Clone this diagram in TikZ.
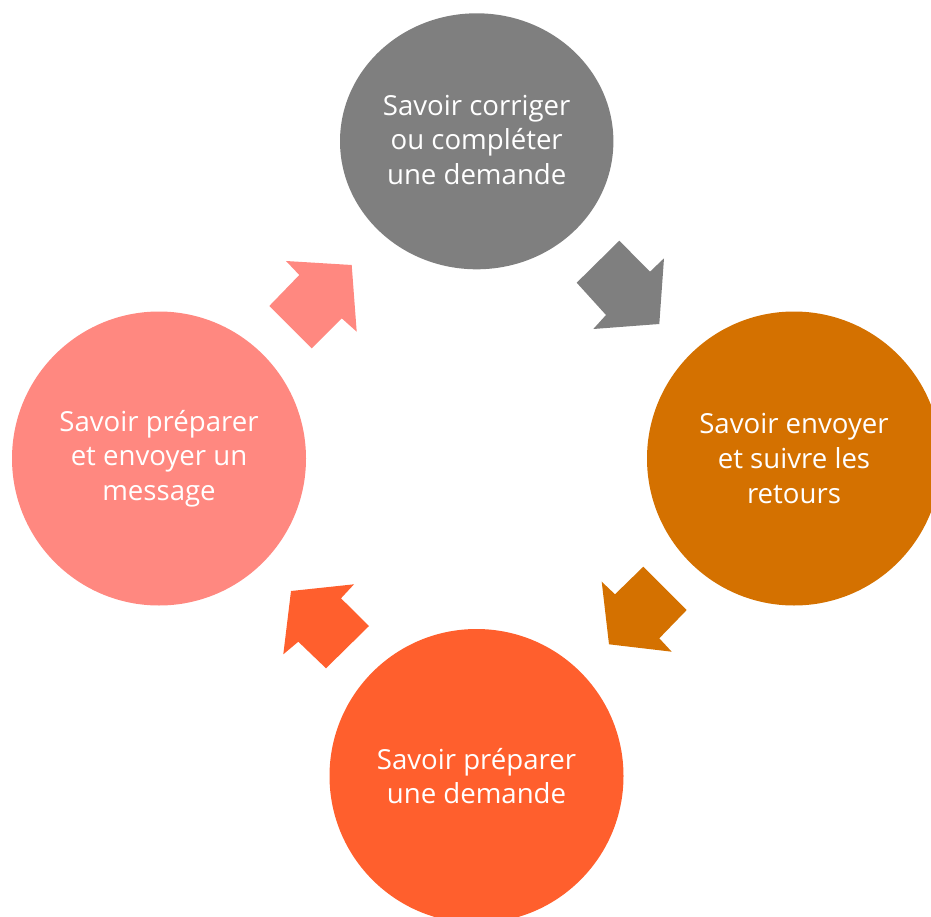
\documentclass[tikz,border=0pt]{standalone}
\usepackage{fontspec}
\setmainfont{Open Sans}
\definecolor{cgray}{RGB}{127,127,127}
\definecolor{corange}{RGB}{212,113,0}
\definecolor{cred}{RGB}{255,95,45}
\definecolor{cpink}{RGB}{255,136,128}
\tikzset{
  stage/.style={circle, inner sep=0pt, text=white, align=center,
    font=\fontsize{27.6}{34.6}\selectfont},
  blockarrow/.style={draw=none}
}
\begin{document}
\begin{tikzpicture}[x=1pt,y=-1pt]
\useasboundingbox (0,0) rectangle (931,917);
\clip (0,0) rectangle (931,917);
% circles
\fill[cgray] (476.7,141.3) ellipse [x radius=136.7, y radius=128];
\node[stage] (top) at (476.7,140) {Savoir corriger\\ou compléter\\une demande};
\node[stage, fill=corange, minimum size=294pt] (right) at (794,458.5) {Savoir envoyer\\et suivre les\\retours};
\node[stage, fill=cred, minimum size=294pt] (bottom) at (476.5,776) {Savoir préparer\\une demande};
\node[stage, fill=cpink, minimum size=294pt] (left) at (159,458.5) {Savoir préparer\\et envoyer un\\message};
% arrows
\fill[cpink, blockarrow] (351.7,265) -- (286,261) -- (299.3,275) -- (269.3,306) -- (311.7,348.3) -- (341.7,318.3) -- (356.7,331.7) -- cycle;
\fill[cgray, blockarrow] (659.3,324) -- (664,258.3) -- (650,271.7) -- (619.3,240.7) -- (576.7,282.7) -- (606,315) -- (593.3,329) -- cycle;
\fill[corange, blockarrow] (609,644.3) -- (601.7,581.7) -- (615,594.3) -- (643.3,566.7) -- (686.7,610) -- (659.3,638.3) -- (671.7,651.7) -- cycle;
\fill[cred, blockarrow] (291,591) -- (354,584.3) -- (341,598.3) -- (369,626) -- (326,668.3) -- (298.3,641.7) -- (283.3,654.3) -- cycle;
\end{tikzpicture}
\end{document}
